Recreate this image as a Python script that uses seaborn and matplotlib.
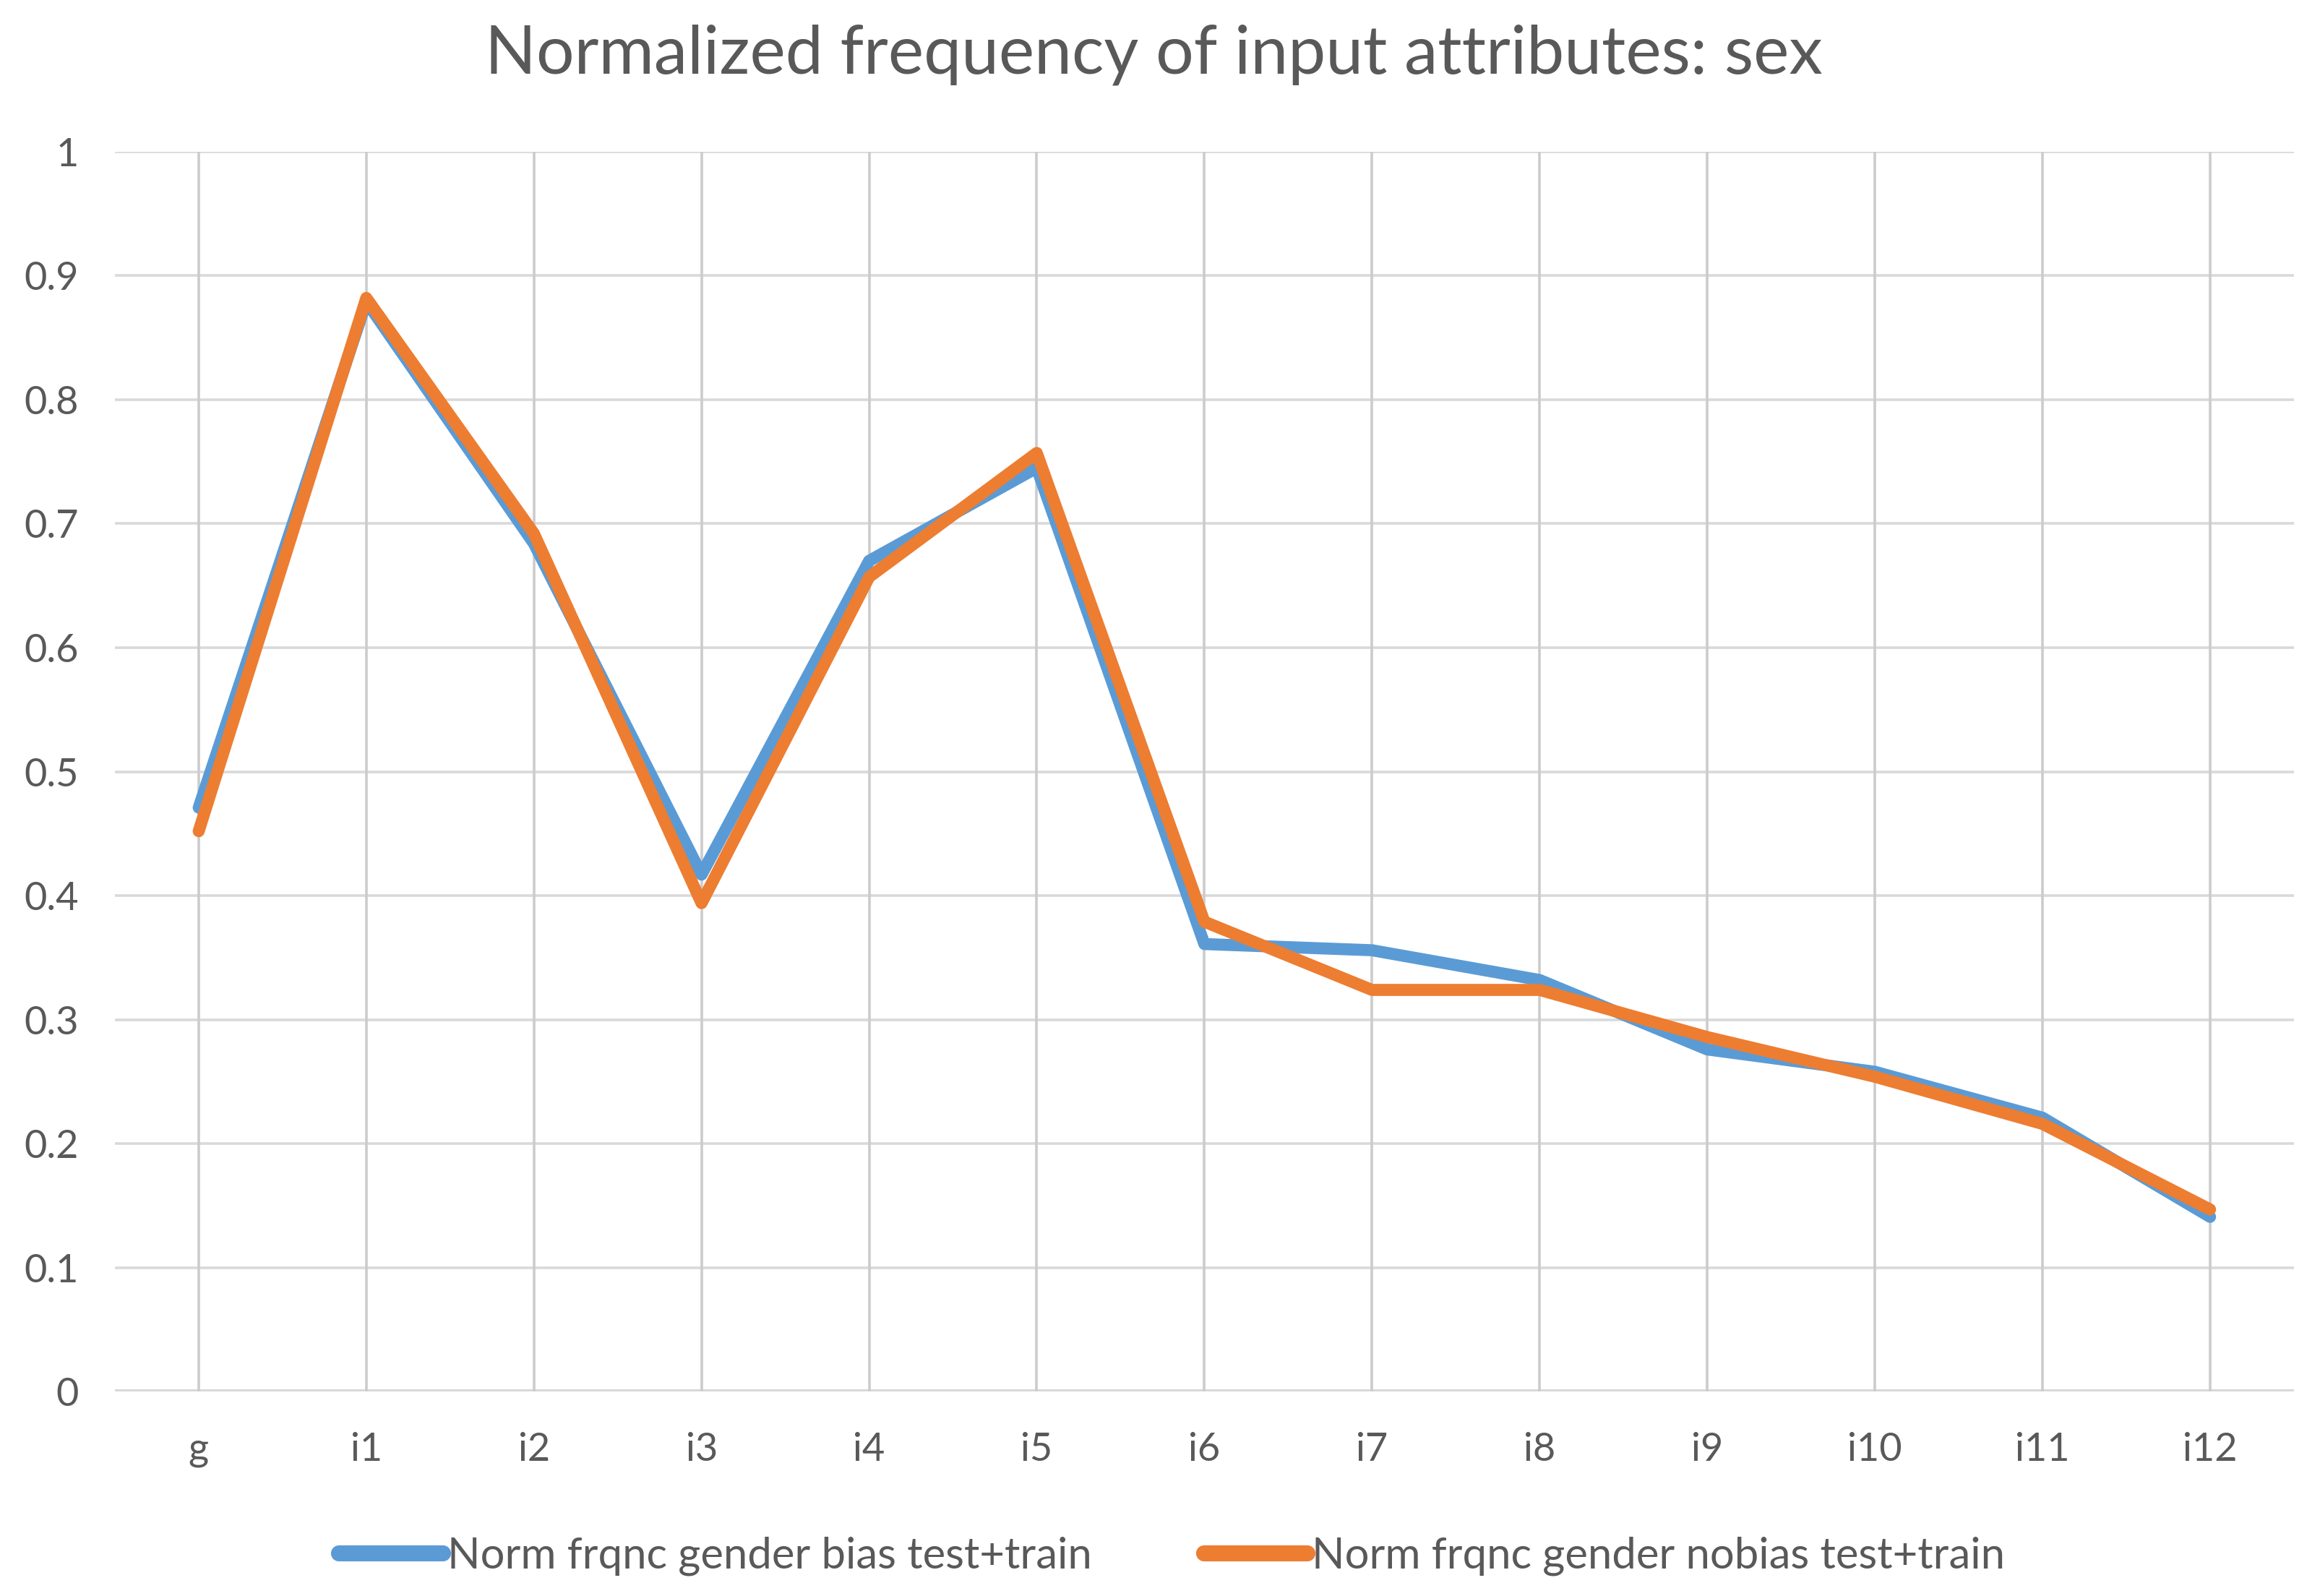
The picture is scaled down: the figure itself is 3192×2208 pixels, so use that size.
import pandas as pd
import seaborn as sns
import matplotlib.pyplot as plt
from matplotlib.lines import Line2D

# Chart data
attributes = ['g', 'i1', 'i2', 'i3', 'i4', 'i5', 'i6', 'i7', 'i8', 'i9', 'i10', 'i11', 'i12']
bias_vals = [0.471, 0.879, 0.684, 0.417, 0.670, 0.745, 0.361, 0.356, 0.332, 0.276, 0.258, 0.221, 0.141]
nobias_vals = [0.452, 0.882, 0.692, 0.394, 0.657, 0.757, 0.379, 0.324, 0.324, 0.286, 0.254, 0.216, 0.147]
series_names = ['Norm frqnc gender bias test+train', 'Norm frqnc gender nobias test+train']
series_colors = ['#5B9BD5', '#ED7D31']
title_text = 'Normalized frequency of input attributes: sex'

df = pd.DataFrame({
    'attribute': attributes * 2,
    'value': bias_vals + nobias_vals,
    'series': [series_names[0]] * len(attributes) + [series_names[1]] * len(attributes),
})
df['pos'] = df['attribute'].map({a: i for i, a in enumerate(attributes)})

sns.set_theme(style='white')
plt.rcParams['font.family'] = ['Lato', 'DejaVu Sans']
text_color = '#595959'

fig = plt.figure(figsize=(15.96, 11.04), dpi=200)
ax = fig.add_axes([0.0498, 0.128, 0.9445, 0.777])

sns.lineplot(data=df, x='pos', y='value', hue='series', hue_order=series_names,
             palette=series_colors, linewidth=6.0, sort=False, legend=False, ax=ax)

ax.set_xlim(-0.5, len(attributes) - 0.5)
ax.set_ylim(0, 1)
ax.set_yticks([i / 10 for i in range(11)])
ax.set_yticklabels(['0'] + [f'{i / 10:g}' for i in range(1, 10)] + ['1'])
ax.set_xticks(range(len(attributes)))
ax.set_xticklabels(attributes)

# gridlines like a spreadsheet chart
for yv in ax.get_yticks()[1:]:
    ax.axhline(yv, color='#d9d9d9', linewidth=1.3, zorder=0)
ax.axhline(0, color='#d9d9d9', linewidth=2.2, zorder=0)
for xv in range(len(attributes)):
    ax.axvline(xv, color='#cccccc', linewidth=1.3, zorder=0)

for s in ax.spines.values():
    s.set_visible(False)
ax.tick_params(axis='both', length=0, labelsize=19.5, colors=text_color)
ax.tick_params(axis='x', pad=20)
ax.tick_params(axis='y', pad=18)
ax.set_xlabel('')
ax.set_ylabel('')

fig.text(0.5, 0.985, title_text, ha='center', va='top', fontsize=33.5, color=text_color)

handles = [Line2D([0], [0], color=c, linewidth=8, solid_capstyle='round') for c in series_colors]
fig.legend(handles, series_names, loc='center', bbox_to_anchor=(0.508, 0.025), ncol=2,
           frameon=False, fontsize=21.5, labelcolor=text_color, handlelength=2.4,
           handletextpad=0.1, columnspacing=2.6)

fig.savefig('out.png', dpi=200)
